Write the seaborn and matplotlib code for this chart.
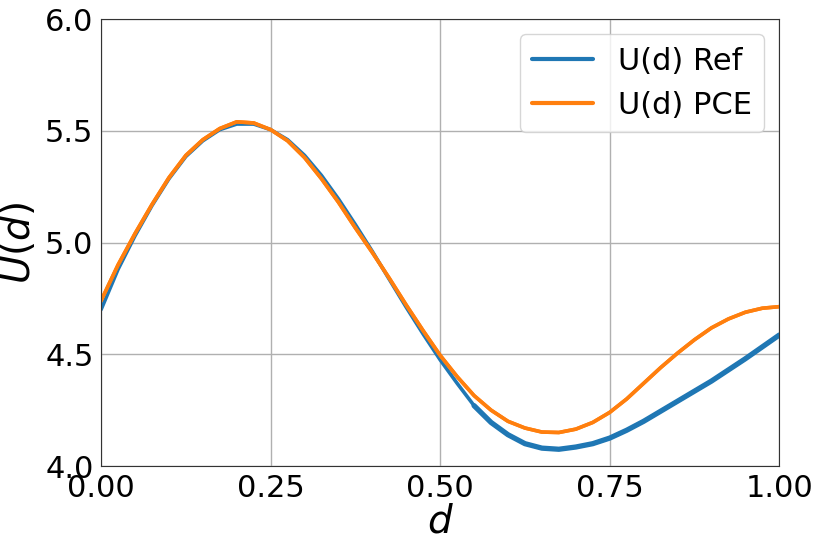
import numpy as np
import pandas as pd
import matplotlib
matplotlib.use("Agg")
import matplotlib.pyplot as plt
import seaborn as sns

d_vals = [0.000, 0.025, 0.050, 0.075, 0.100, 0.125, 0.150, 0.175, 0.200, 0.225,
          0.250, 0.275, 0.300, 0.325, 0.350, 0.375, 0.400, 0.425, 0.450, 0.475,
          0.500, 0.525, 0.550, 0.575, 0.600, 0.625, 0.650, 0.675, 0.700, 0.725,
          0.750, 0.775, 0.800, 0.825, 0.850, 0.875, 0.900, 0.925, 0.950, 0.975, 1.000]

u_ref = [4.70, 4.88, 5.03, 5.165, 5.285, 5.385, 5.455, 5.505, 5.53, 5.53,
         5.505, 5.46, 5.39, 5.30, 5.195, 5.08, 4.96, 4.835, 4.71, 4.59,
         4.475, 4.37, 4.27, 4.195, 4.14, 4.10, 4.08, 4.075, 4.085, 4.10,
         4.125, 4.16, 4.20, 4.245, 4.29, 4.335, 4.38, 4.43, 4.48, 4.533, 4.586]

u_pce = [4.74, 4.90, 5.04, 5.17, 5.29, 5.39, 5.46, 5.51, 5.54, 5.535,
         5.505, 5.455, 5.38, 5.285, 5.18, 5.065, 4.955, 4.84, 4.72, 4.605,
         4.495, 4.40, 4.315, 4.25, 4.20, 4.17, 4.152, 4.15, 4.165, 4.195,
         4.24, 4.30, 4.37, 4.44, 4.505, 4.565, 4.618, 4.658, 4.688, 4.706, 4.713]

labels = ["U(d) Ref", "U(d) PCE"]
colors = ["#1f77b4", "#ff7f0e"]

df = pd.DataFrame({
    "d": d_vals * 2,
    "U": u_ref + u_pce,
    "series": [labels[0]] * len(d_vals) + [labels[1]] * len(d_vals),
})

sns.set_style("whitegrid", {"grid.color": "#b0b0b0", "axes.edgecolor": "#333333",
                            "axes.linewidth": 1.0, "text.color": "black",
                            "xtick.color": "black", "ytick.color": "black",
                            "axes.labelcolor": "black"})
plt.rcParams["font.family"] = ["DejaVu Sans"]

fig = plt.figure(figsize=(8.22, 5.48), dpi=100)
ax = fig.add_axes([0.123, 0.1496, 0.825, 0.8157])

sns.lineplot(data=df, x="d", y="U", hue="series", palette=colors, linewidth=2.6, ax=ax)

# thicker (noisy-looking) part of the reference curve
ref_df = df[(df["series"] == labels[0]) & (df["d"] >= 0.55)]
sns.lineplot(data=ref_df, x="d", y="U", color=colors[0], linewidth=3.8, ax=ax, legend=False)
# re-draw PCE on top
pce_df = df[df["series"] == labels[1]]
sns.lineplot(data=pce_df, x="d", y="U", color=colors[1], linewidth=2.6, ax=ax, legend=False)

ax.set_xlim(0, 1)
ax.set_ylim(4.0, 6.0)
ax.set_xticks([0.0, 0.25, 0.5, 0.75, 1.0])
ax.set_yticks([4.0, 4.5, 5.0, 5.5, 6.0])
ax.xaxis.set_major_formatter(matplotlib.ticker.FormatStrFormatter("%.2f"))
ax.yaxis.set_major_formatter(matplotlib.ticker.FormatStrFormatter("%.1f"))
ax.tick_params(axis="both", labelsize=22, length=2.5, width=0.8, pad=3,
               colors="black", labelcolor="black")
ax.tick_params(axis="both", color="#888888")
ax.set_xlabel("$d$", fontsize=28, labelpad=0, color="black")
ax.set_ylabel("$U(d)$", fontsize=28, labelpad=5, color="black")
ax.grid(True, color="#b0b0b0", linewidth=1.0)

leg = ax.legend(loc="upper right", fontsize=22, frameon=True, handlelength=2.0,
                framealpha=0.8, borderaxespad=0.5)
leg.get_frame().set_edgecolor("#cccccc")
for t in leg.get_texts():
    t.set_color("black")
for line in leg.get_lines():
    line.set_linewidth(3)

fig.savefig("out.png", dpi=100)
